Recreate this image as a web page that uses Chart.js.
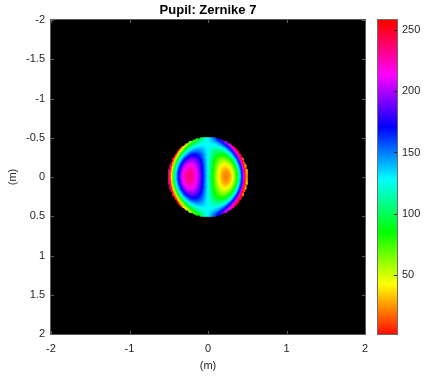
<!DOCTYPE html>
<html>
<head>
<meta charset="utf-8">
<script src="https://cdn.jsdelivr.net/npm/chart.js@4.4.1/dist/chart.umd.min.js"></script>
<style>
  html, body { margin: 0; padding: 0; background: #fff; }
  #wrap { position: relative; width: 424px; height: 378px; }
  #wrap canvas { position: absolute; left: 0; top: 0; }
</style>
</head>
<body>
<div id="wrap">
  <canvas id="pupil" width="424" height="378"></canvas>
  <canvas id="cbar" width="424" height="378"></canvas>
</div>
<script>
// axes and colorbar
const xTicks = [-2, -1, 0, 1, 2];
const yTicks = [-2, -1.5, -1, -0.5, 0, 0.5, 1, 1.5, 2];
const cbarTicks = [50, 100, 150, 200, 250];
const cbarLimits = [2, 258];

// sampling grid and pupil
const gridExtent = [-2, 2];
const gridSize = [256];
const pupilRadius = [0.5];

// Zernike 7 term: (3ρ³ − 2ρ)·cosθ
const radialCoefs = [3, -2];
const radialPowers = [3, 1];

// phase -> colormap index (wraps every 256 levels)
const indexOffset = [128];
const indexGain = [170];
const indexCycle = [256];

const hueStops = ['#ff0000', '#ffff00', '#00ff00', '#00ffff', '#0000ff', '#ff00ff', '#ff0000'];

const FONT = "'Liberation Sans', Arial, Helvetica, sans-serif";
const TEXT = '#262626';
const tickFont = { family: FONT, size: 11 };

// MATLAB-style hsv colormap lookup, t in [0, 1)
function hsvColor(t) {
  const h = (((t % 1) + 1) % 1) * 6;
  const i = Math.floor(h);
  const f = h - i;
  const up = Math.round(255 * f);
  const down = Math.round(255 * (1 - f));
  const rgb = [
    [255, up, 0], [down, 255, 0], [0, 255, up],
    [0, down, 255], [up, 0, 255], [255, 0, down],
  ][i];
  return `rgb(${rgb[0]},${rgb[1]},${rgb[2]})`;
}

function zernike7(x, y) {
  const r = Math.hypot(x, y);
  if (r === 0) return 0;
  const rho = r / pupilRadius[0];
  let radial = 0;
  radialCoefs.forEach((c, k) => { radial += c * Math.pow(rho, radialPowers[k]); });
  return radial * (x / r);
}

const cells = [];
const cellColors = [];
const step = (gridExtent[1] - gridExtent[0]) / gridSize[0];
for (let j = 0; j < gridSize[0]; j++) {
  const y = gridExtent[0] + (j + 0.5) * step;
  for (let i = 0; i < gridSize[0]; i++) {
    const x = gridExtent[0] + (i + 0.5) * step;
    if (Math.hypot(x, y) > pupilRadius[0]) continue;
    const idx = indexOffset[0] + indexGain[0] * zernike7(x, y);
    cells.push({ x, y });
    cellColors.push(hsvColor(idx / indexCycle[0]));
  }
}

const fixedTicks = values => scale => { scale.ticks = values.map(v => ({ value: v })); };

// black image background, box and inward tick marks
const axesFrame = {
  id: 'axesFrame',
  beforeDatasetsDraw(chart) {
    const { ctx, chartArea: a } = chart;
    ctx.save();
    ctx.fillStyle = '#000';
    ctx.fillRect(a.left, a.top, a.width, a.height);
    ctx.restore();
  },
  afterDatasetsDraw(chart) {
    const { ctx, chartArea: a, scales } = chart;
    ctx.save();
    ctx.lineWidth = 1;
    ctx.strokeStyle = '#5e5e5e';
    ctx.beginPath();
    xTicks.forEach(v => {
      const px = Math.round(scales.x.getPixelForValue(v)) + 0.5;
      ctx.moveTo(px, a.top); ctx.lineTo(px, a.top + 3);
      ctx.moveTo(px, a.bottom); ctx.lineTo(px, a.bottom - 3);
    });
    yTicks.forEach(v => {
      const py = Math.round(scales.y.getPixelForValue(v)) + 0.5;
      ctx.moveTo(a.left, py); ctx.lineTo(a.left + 3, py);
      ctx.moveTo(a.right, py); ctx.lineTo(a.right - 3, py);
    });
    ctx.stroke();
    ctx.strokeStyle = '#5a5a5a';
    ctx.strokeRect(a.left - 0.5, a.top - 0.5, a.width + 1, a.height + 1);
    ctx.restore();
  },
};

new Chart(document.getElementById('pupil'), {
  type: 'scatter',
  data: {
    datasets: [{
      data: cells,
      pointStyle: 'rect',
      pointRadius: 1.45,
      pointHoverRadius: 1.45,
      pointBorderWidth: 0,
      pointBackgroundColor: cellColors,
    }],
  },
  options: {
    responsive: false,
    animation: false,
    devicePixelRatio: 1,
    events: [],
    layout: { padding: { left: 0, right: 59, top: 0, bottom: 0 } },
    plugins: { legend: { display: false }, tooltip: { enabled: false } },
    scales: {
      x: {
        type: 'linear', min: -2, max: 2,
        afterBuildTicks: fixedTicks(xTicks),
        afterFit: s => { s.height = 44; },
        grid: { display: false, drawTicks: false },
        border: { display: false },
        ticks: { color: TEXT, font: tickFont, padding: 8, maxRotation: 0, callback: v => String(v) },
        title: { display: true, text: '(m)', color: TEXT, font: tickFont, padding: { top: 0, bottom: 5.4 } },
      },
      // carries the heading so it centres over the image
      top: {
        type: 'linear', position: 'top', min: -2, max: 2,
        afterFit: s => { s.height = 20; },
        grid: { display: false, drawTicks: false },
        border: { display: false },
        ticks: { display: false },
        title: {
          display: true, text: 'Pupil: Zernike 7', color: '#000',
          font: { family: FONT, size: 13, weight: 'bold' },
          padding: { top: 2.2, bottom: 0 },
        },
      },
      y: {
        type: 'linear', min: -2, max: 2, reverse: true,
        afterBuildTicks: fixedTicks(yTicks),
        afterFit: s => { s.width = 51; },
        grid: { display: false, drawTicks: false },
        border: { display: false },
        ticks: { color: TEXT, font: tickFont, padding: 6, callback: v => String(v) },
        title: { display: true, text: '(m)', color: TEXT, font: tickFont, padding: { top: 6.4, bottom: 0 } },
      },
    },
  },
  plugins: [axesFrame],
});

// colorbar fill follows the hsv map along the value axis
function hueGradient(context) {
  const chart = context.chart;
  if (!chart.chartArea) return null;
  const y = chart.scales.y;
  const g = chart.ctx.createLinearGradient(0, y.getPixelForValue(0), 0, y.getPixelForValue(indexCycle[0]));
  hueStops.forEach((c, k) => g.addColorStop(k / (hueStops.length - 1), c));
  return g;
}

const cbarFrame = {
  id: 'cbarFrame',
  afterDatasetsDraw(chart) {
    const { ctx, chartArea: a, scales } = chart;
    ctx.save();
    ctx.lineWidth = 1;
    ctx.strokeStyle = '#262626';
    ctx.beginPath();
    cbarTicks.forEach(v => {
      const py = Math.round(scales.y.getPixelForValue(v)) + 0.5;
      ctx.moveTo(a.right, py); ctx.lineTo(a.right - 3, py);
    });
    ctx.stroke();
    ctx.strokeStyle = '#6b6b6b';
    ctx.strokeRect(a.left - 0.5, a.top - 0.5, a.width + 1, a.height + 1);
    ctx.restore();
  },
};

new Chart(document.getElementById('cbar'), {
  type: 'bar',
  data: {
    labels: ['index'],
    datasets: [{
      data: [cbarLimits],
      backgroundColor: hueGradient,
      borderWidth: 0,
      barPercentage: 1,
      categoryPercentage: 1,
    }],
  },
  options: {
    responsive: false,
    animation: false,
    devicePixelRatio: 1,
    events: [],
    layout: { padding: { left: 378, right: 0, top: 20, bottom: 44 } },
    plugins: { legend: { display: false }, tooltip: { enabled: false } },
    scales: {
      x: { display: false },
      y: {
        position: 'right',
        min: cbarLimits[0], max: cbarLimits[1],
        afterBuildTicks: fixedTicks(cbarTicks),
        afterFit: s => { s.width = 27; },
        grid: { display: false, drawTicks: false },
        border: { display: false },
        ticks: { color: TEXT, font: tickFont, padding: 5 },
      },
    },
  },
  plugins: [cbarFrame],
});
</script>
</body>
</html>
